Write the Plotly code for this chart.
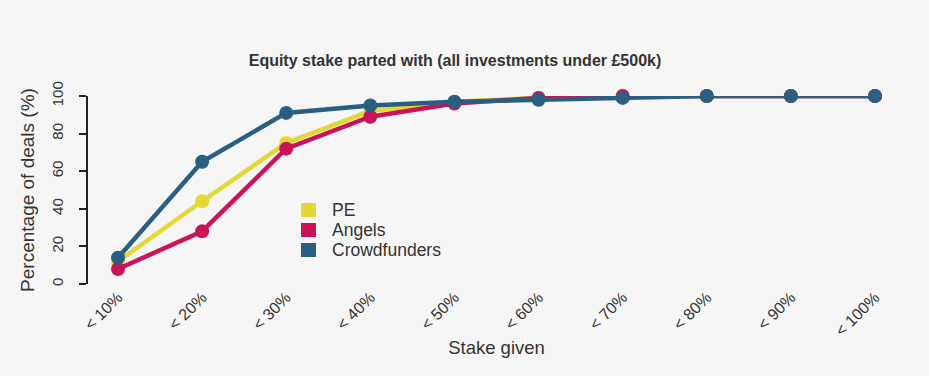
import plotly.graph_objects as go

categories = ["< 10%", "< 20%", "< 30%", "< 40%", "< 50%", "< 60%", "< 70%", "< 80%", "< 90%", "< 100%"]
pe = [12, 44, 75, 92, 97, 99, 100, 100, 100, 100]
angels = [8, 28, 72, 89, 96, 99, 100, 100, 100, 100]
crowdfunders = [14, 65, 91, 95, 97, 98, 99, 100, 100, 100]
y_ticks = [0, 20, 40, 60, 80, 100]
series_names = ["PE", "Angels", "Crowdfunders"]

colors = {"PE": "#e3d936", "Angels": "#c9145b", "Crowdfunders": "#2a5f81"}
series = [("PE", pe), ("Angels", angels), ("Crowdfunders", crowdfunders)]

W, H = 929, 376
L, R, T, B = 88, 24, 96, 92
pw = W - L - R
ph = H - T - B
pad = 30 / 84.1

fig = go.Figure()
xs = list(range(len(categories)))
for name, vals in series:
    fig.add_trace(go.Scatter(
        x=xs, y=vals, mode="lines+markers", name=name, showlegend=False,
        line=dict(color=colors[name], width=4.5),
        marker=dict(color=colors[name], size=14),
        cliponaxis=False,
    ))

# manual legend (squares + labels)
shapes = []
annotations = []
for i, name in enumerate(series_names):
    cy = 210 + 20 * i
    shapes.append(dict(type="rect", xref="paper", yref="paper",
                       x0=(301 - L) / pw, x1=(316 - L) / pw,
                       y0=(H - B - (cy + 7)) / ph, y1=(H - B - (cy - 7)) / ph,
                       fillcolor=colors[name], line=dict(width=0)))
    annotations.append(dict(text=name, xref="paper", yref="paper",
                            x=(330 - L) / pw, y=(H - B - cy) / ph,
                            xanchor="left", yanchor="middle", showarrow=False,
                            font=dict(size=17.5, color="#333333")))

fig.update_layout(
    width=W, height=H,
    margin=dict(l=L, r=R, t=T, b=B),
    paper_bgcolor="#f6f6f6", plot_bgcolor="#f6f6f6",
    font=dict(family="Liberation Sans, Arial, sans-serif", color="#333333"),
    title=dict(text="<b>Equity stake parted with (all investments under £500k)</b>",
               x=455 / W, xref="container", y=1 - 60 / H, yref="container",
               xanchor="center", yanchor="middle",
               font=dict(size=16, color="#333333")),
    showlegend=False,
    shapes=shapes,
    annotations=annotations,
    xaxis=dict(range=[-pad, 9 + pad], tickmode="array", tickvals=xs, ticktext=categories,
               tickangle=-45, showgrid=False, zeroline=False, showline=False,
               ticks="", tickfont=dict(size=16, color="#333333"),
               title=dict(text="Stake given", font=dict(size=18.5, color="#333333"), standoff=2)),
    yaxis=dict(range=[0, 100], tickvals=y_ticks, tickangle=-90, showgrid=False,
               zeroline=False, showline=True, linecolor="#222222", linewidth=2,
               ticks="outside", ticklen=7, tickwidth=2, tickcolor="#222222",
               ticklabelstandoff=10,
               tickfont=dict(size=15, color="#333333"),
               title=dict(text="Percentage of deals (%)", font=dict(size=19, color="#333333"), standoff=9)),
)

fig.write_html("out.html", config={"displayModeBar": False},
               post_script="document.body.style.margin='0';document.body.style.background='#f6f6f6';")
